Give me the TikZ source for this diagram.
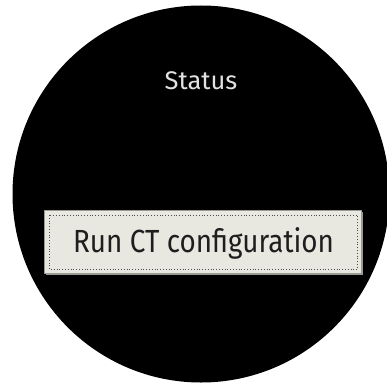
\documentclass[tikz,border=0pt]{standalone}
\usepackage{fontspec}
\setmainfont{Fira Sans}
\newfontfamily\btnfont[FakeStretch=0.87]{Fira Sans}
\definecolor{btnfill}{HTML}{E8E7E0}
\definecolor{btnshade}{HTML}{9A9A94}
\definecolor{stattxt}{HTML}{E2E2E2}
\definecolor{btntxt}{HTML}{1E1E1E}
\tikzset{
  screen/.style={fill=black, draw=none},
  btn/.style={fill=btnfill, draw=btnshade, line width=0.8pt},
  focusring/.style={draw=black!70, dotted, line width=0.8pt},
  titletext/.style={text=stattxt, font=\fontsize{25.5}{30}\selectfont, inner sep=0pt},
  btnlabel/.style={text=btntxt, font=\btnfont\fontsize{32}{38}\selectfont, inner sep=0pt}
}
\begin{document}
\begin{tikzpicture}[x=1pt,y=-1pt]
\useasboundingbox (0,0) rectangle (387,385);
\fill[white] (0,0) rectangle (387,385);
\path[screen] (201,194) circle[radius=188.5];
\node[titletext] (status) at (201,81) {Status};
\fill[btnshade] (46,212) rectangle (363,275);
\path[btn] (44,210) rectangle (361.5,273.5);
\draw[focusring] (49.5,215) rectangle (357,269.5);
\node[btnlabel] (run) at (203.5,243) {Run CT configuration};
\end{tikzpicture}
\end{document}
